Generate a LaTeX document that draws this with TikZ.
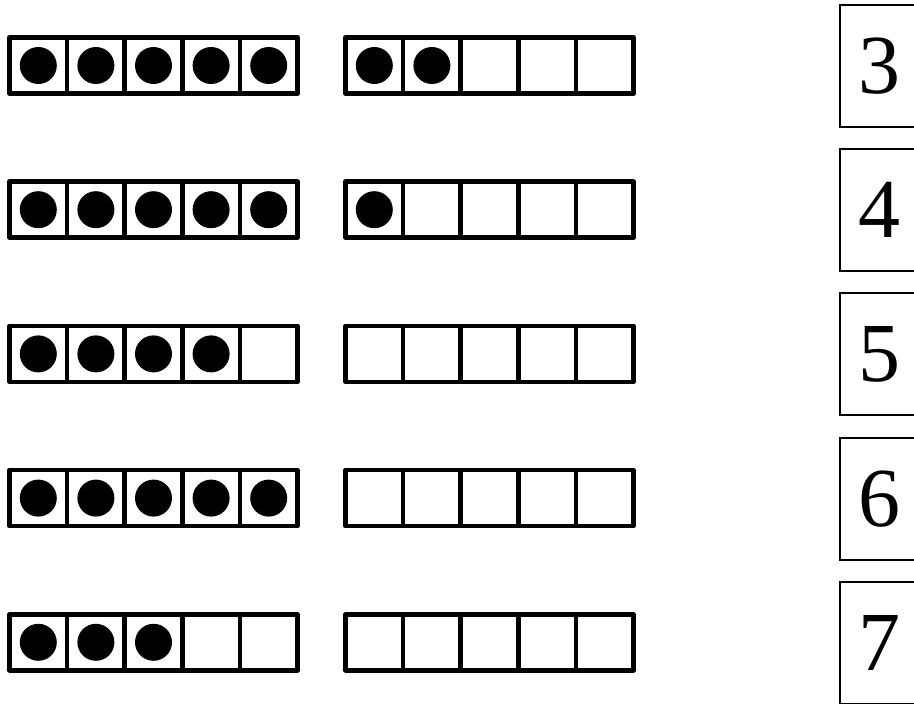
\documentclass[tikz,border=0pt]{standalone}
\usepackage{fontspec}
\setmainfont{Liberation Serif}
\begin{document}
\begin{tikzpicture}[x=1pt,y=-1pt,
  frameline/.style={line width=4.5pt, line join=round},
  dot/.style={circle, fill=black, inner sep=0pt, minimum size=37pt},
  numbox/.style={draw, line width=2pt, minimum width=78pt, minimum height=122pt, inner sep=0pt, font=\fontsize{84}{84}\selectfont}]
\useasboundingbox (0,0) rectangle (914,704);
\foreach \r/\a/\b/\n in {0/5/2/3, 1/5/1/4, 2/4/0/5, 3/5/0/6, 4/3/0/7} {
  \pgfmathsetmacro\yy{37.5+144.2*\r}
  \foreach \ox in {9.5, 345.5} {
    \draw[frameline] (\ox,\yy) rectangle ++(288,56);
    \foreach \k in {1,2,3,4} {
      \draw[frameline] (\ox+57.6*\k,\yy) -- ++(0,56);
    }
  }
  \foreach \i in {1,...,5} {
    \ifnum\i>\a\else
      \node[dot] (L\r-\i) at (9.5+57.6*\i-28.8,\yy+28) {};
    \fi
    \ifnum\i>\b\else
      \node[dot] (R\r-\i) at (345.5+57.6*\i-28.8,\yy+28) {};
    \fi
  }
  \node[numbox] (n\n) at (879,\yy+28.5) {\n};
}
\end{tikzpicture}
\end{document}
